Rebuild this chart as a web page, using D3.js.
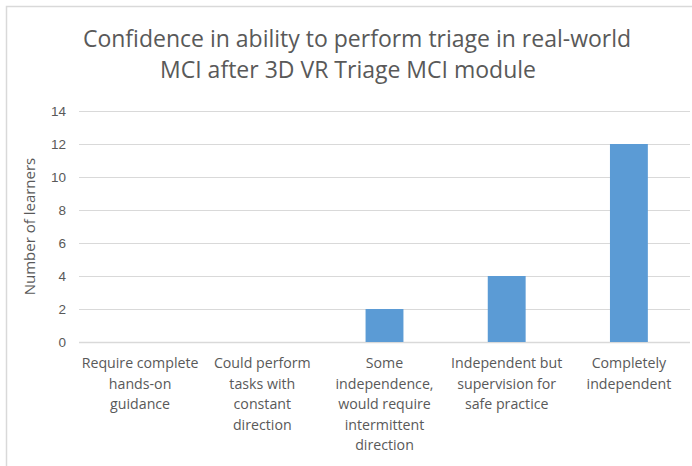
<!DOCTYPE html>
<html>
<head>
<meta charset="utf-8">
<script src="https://cdn.jsdelivr.net/npm/d3@7"></script>
<style>
  body { margin: 0; background: #fff; }
  svg { display: block; font-family: "Open Sans", "Noto Sans", sans-serif; }
</style>
</head>
<body>
<div id="chart"></div>
<script>
const categories = [
  ["Require complete", "hands-on", "guidance"],
  ["Could perform", "tasks with", "constant", "direction"],
  ["Some", "independence,", "would require", "intermittent", "direction"],
  ["Independent but", "supervision for", "safe practice"],
  ["Completely", "independent"]
]
const learners = [0, 0, 2, 4, 12]
const yTicks = [0, 2, 4, 6, 8, 10, 12, 14]
const titleLines = ["Confidence in ability to perform triage in real-world", "MCI after 3D VR Triage MCI module"]
const yTitle = "Number of learners"

const width = 692
const height = 466
const margin = {top: 111, right: 2, bottom: 124, left: 79}
const textColor = "#595959"

const svg = d3.select("#chart").append("svg")
    .attr("width", width)
    .attr("height", height)

// chart frame
svg.append("path")
    .attr("d", `M6.5,${height} V6.5 H${width}`)
    .attr("fill", "none")
    .attr("stroke", "#d9d9d9")
    .attr("stroke-width", 1.5)

const x = d3.scaleBand()
    .domain(d3.range(categories.length))
    .range([margin.left, width - margin.right])
    .paddingInner(0.69)
    .paddingOuter(0.345)

const y = d3.scaleLinear()
    .domain([0, 14])
    .range([height - margin.bottom, margin.top])

// gridlines
svg.append("g")
    .selectAll("line")
    .data(yTicks)
    .join("line")
      .attr("x1", margin.left)
      .attr("x2", width - margin.right)
      .attr("y1", d => Math.round(y(d)) + 0.5)
      .attr("y2", d => Math.round(y(d)) + 0.5)
      .attr("stroke", "#d9d9d9")
      .attr("stroke-width", d => d === 0 ? 1.5 : 1.2)

// y axis labels
const yAxis = svg.append("g")
    .attr("transform", `translate(${margin.left},0)`)
    .call(d3.axisLeft(y).tickValues(yTicks).tickSize(0).tickPadding(13))
yAxis.select(".domain").remove()
yAxis.selectAll("text")
    .attr("fill", textColor)
    .style("font-size", "13.5px")

// bars
svg.append("g")
    .selectAll("rect")
    .data(learners)
    .join("rect")
      .attr("x", (d, i) => x(i))
      .attr("y", d => y(d))
      .attr("width", x.bandwidth())
      .attr("height", d => y(0) - y(d))
      .attr("fill", "#5b9bd5")

// category labels
const catGroup = svg.append("g")
categories.forEach((lines, i) => {
  const t = catGroup.append("text")
      .attr("x", x(i) + x.bandwidth() / 2)
      .attr("y", 368)
      .attr("text-anchor", "middle")
      .attr("fill", textColor)
      .style("font-size", "14.2px")
  lines.forEach((line, j) => t.append("tspan")
      .attr("x", x(i) + x.bandwidth() / 2)
      .attr("dy", j === 0 ? 0 : 20.5)
      .text(line))
})

// title
const titleX = [357, 348]
const title = svg.append("text")
    .attr("y", 47)
    .attr("text-anchor", "middle")
    .attr("fill", textColor)
    .style("font-size", "23px")
titleLines.forEach((line, j) => title.append("tspan")
    .attr("x", titleX[j])
    .attr("dy", j === 0 ? 0 : 31)
    .text(line))

// y title
svg.append("text")
    .attr("transform", `translate(35,${(y(0) + y(14)) / 2}) rotate(-90)`)
    .attr("text-anchor", "middle")
    .attr("fill", textColor)
    .style("font-size", "15px")
    .text(yTitle)
</script>
</body>
</html>
